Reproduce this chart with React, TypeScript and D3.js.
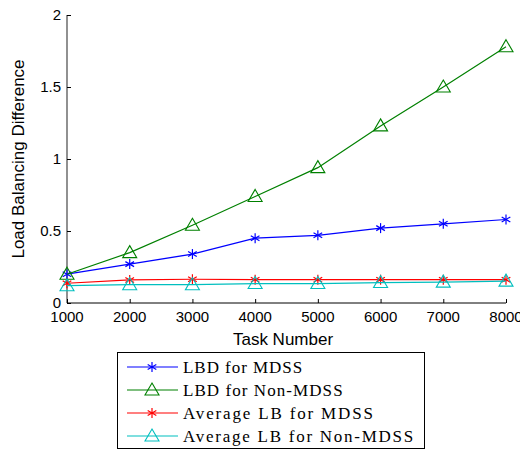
import React, { useEffect, useRef } from 'react';
import * as d3 from 'd3';

const tasks = [1000, 2000, 3000, 4000, 5000, 6000, 7000, 8000];
const lbdMdss = [0.2, 0.27, 0.34, 0.45, 0.47, 0.52, 0.55, 0.58];
const lbdNonMdss = [0.2, 0.35, 0.54, 0.74, 0.94, 1.23, 1.5, 1.78];
const avgMdss = [0.137, 0.16, 0.165, 0.162, 0.162, 0.162, 0.162, 0.162];
const avgNonMdss = [0.12, 0.127, 0.127, 0.135, 0.135, 0.142, 0.145, 0.152];
const xTicks = [1000, 2000, 3000, 4000, 5000, 6000, 7000, 8000];
const yTicks = [0, 0.5, 1, 1.5, 2];

const series = [
  { name: 'LBD for MDSS', values: lbdMdss, color: '#0000ff', marker: 'star' },
  { name: 'LBD for Non-MDSS', values: lbdNonMdss, color: '#008000', marker: 'tri' },
  { name: 'Average LB for MDSS', values: avgMdss, color: '#ff0000', marker: 'star' },
  { name: 'Average LB for Non-MDSS', values: avgNonMdss, color: '#00bfbf', marker: 'tri' },
];

const W = 520;
const H = 451;

export default function App() {
  const svgRef = useRef<SVGSVGElement>(null);

  useEffect(() => {
    const svg = d3.select(svgRef.current);
    svg.selectAll('*').remove();

    const x = d3.scaleLinear().domain([1000, 8000]).range([67, 506]);
    const y = d3.scaleLinear().domain([0, 2]).range([303, 15]);

    const drawMarker = (g: any, kind: string, cx: number, cy: number, color: string) => {
      if (kind === 'tri') {
        g.append('path')
          .attr('d', `M${cx},${cy - 7}L${cx + 7},${cy + 5}L${cx - 7},${cy + 5}Z`)
          .attr('fill', 'none')
          .attr('stroke', color)
          .attr('stroke-width', 1.1);
      } else {
        const r = 5;
        [0, 60, 120].forEach((a) => {
          const rad = (a * Math.PI) / 180;
          g.append('line')
            .attr('x1', cx - r * Math.sin(rad))
            .attr('y1', cy - r * Math.cos(rad))
            .attr('x2', cx + r * Math.sin(rad))
            .attr('y2', cy + r * Math.cos(rad))
            .attr('stroke', color)
            .attr('stroke-width', 1.2);
        });
      }
    };

    // axes (left and bottom only, ticks pointing inward)
    const yAxis = d3.axisRight(y).tickValues(yTicks).tickSize(4).tickFormat(() => '');
    const yg = svg.append('g').attr('transform', 'translate(67,0)').call(yAxis);
    yg.select('.domain').attr('stroke', '#555').attr('stroke-width', 1.3).attr('d', 'M0,15V303');
    yg.selectAll('line').attr('stroke', '#000');

    const xAxis = d3.axisTop(x).tickValues(xTicks).tickSize(4).tickFormat(() => '');
    const xg = svg.append('g').attr('transform', 'translate(0,303)').call(xAxis);
    xg.select('.domain').attr('stroke', '#000').attr('d', 'M67,0H506');

    svg.selectAll('.ylab')
      .data(yTicks)
      .join('text')
      .attr('x', 61)
      .attr('y', (d) => y(d) + 5)
      .attr('text-anchor', 'end')
      .style('font-family', 'Arial, "Liberation Sans", sans-serif')
      .style('font-size', '15px')
      .text((d) => d3.format('')(d));

    svg.selectAll('.xlab')
      .data(xTicks)
      .join('text')
      .attr('x', (d) => x(d))
      .attr('y', 322)
      .attr('text-anchor', 'middle')
      .style('font-family', 'Arial, "Liberation Sans", sans-serif')
      .style('font-size', '15px')
      .text((d) => d);

    svg.append('text')
      .attr('x', 283)
      .attr('y', 345)
      .attr('text-anchor', 'middle')
      .style('font-family', 'Arial, "Liberation Sans", sans-serif')
      .style('font-size', '17px')
      .text('Task Number');

    svg.append('text')
      .attr('transform', 'rotate(-90)')
      .attr('x', -159)
      .attr('y', 24)
      .attr('text-anchor', 'middle')
      .style('font-family', 'Arial, "Liberation Sans", sans-serif')
      .style('font-size', '17px')
      .text('Load Balancing Difference');

    const line = d3.line<number>()
      .x((_, i) => x(tasks[i]))
      .y((d) => y(d));

    series.forEach((s) => {
      const g = svg.append('g');
      g.append('path')
        .attr('d', line(s.values))
        .attr('fill', 'none')
        .attr('stroke', s.color)
        .attr('stroke-width', 1.2);
      s.values.forEach((v, i) => drawMarker(g, s.marker, x(tasks[i]), y(v), s.color));
    });

    // legend
    const lg = svg.append('g');
    lg.append('rect')
      .attr('x', 117.5)
      .attr('y', 352.5)
      .attr('width', 307)
      .attr('height', 96)
      .attr('fill', '#fff')
      .attr('stroke', '#000');
    series.forEach((s, i) => {
      const cy = 367 + i * 23;
      lg.append('line')
        .attr('x1', 127)
        .attr('x2', 178)
        .attr('y1', cy)
        .attr('y2', cy)
        .attr('stroke', s.color)
        .attr('stroke-width', 1.2);
      drawMarker(lg, s.marker, 152, cy, s.color);
      // serif, evenly spaced like the original's monospaced serif face
      lg.append('text')
        .attr('x', 183)
        .attr('y', cy + 6)
        .attr('textLength', s.name.length * 10.1 - 2)
        .attr('lengthAdjust', 'spacing')
        .style('font-family', '"Liberation Serif", "DejaVu Serif", serif')
        .style('font-size', '17px')
        .text(s.name);
    });
  }, []);

  return (
    <svg ref={svgRef} width={W} height={H} style={{ display: 'block', position: 'absolute', left: 0, top: 0, background: '#fff' }}></svg>
  );
}
